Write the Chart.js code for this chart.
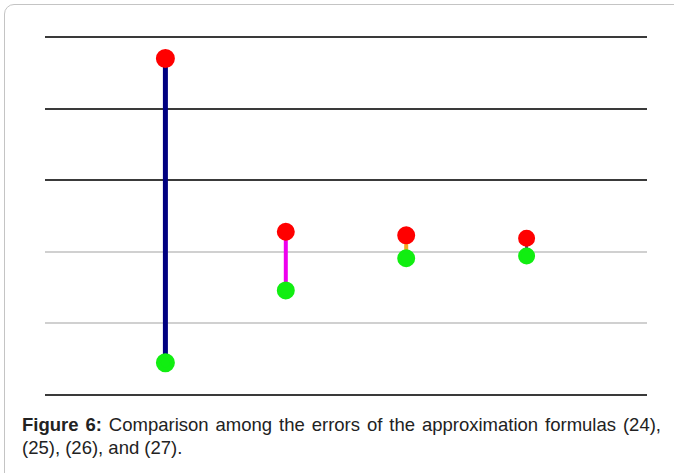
<!DOCTYPE html>
<html>
<head>
<meta charset="utf-8">
<script src="https://cdn.jsdelivr.net/npm/chart.js@4"></script>
<style>
  html, body { margin: 0; padding: 0; background: #fff; }
  body { width: 674px; height: 473px; position: relative; overflow: hidden; }
  .frame {
    position: absolute; left: 4px; top: 4px; width: 700px; height: 500px;
    border: 1px solid #c4c4c4; border-radius: 10px; box-sizing: border-box;
  }
  #wrap { position: absolute; left: 0; top: 0; width: 674px; height: 407px; }
  .caption {
    position: absolute; left: 22px; top: 413px; width: 639px;
    font-family: "Liberation Sans", Arial, sans-serif; font-size: 18.5px;
    line-height: 23px; color: #222; text-align: justify;
  }
</style>
</head>
<body>
<div class="frame"></div>
<div id="wrap"><canvas id="chart"></canvas></div>
<div class="caption"><b>Figure 6:</b> Comparison among the errors of the approximation formulas (24), (25), (26), and (27).</div>
<script>
// --- data ---
const formulas = [1, 2, 3, 4];            // x position of each formula
const upperErr = [4.70, 2.28, 2.23, 2.19]; // red dots
const lowerErr = [0.45, 1.46, 1.91, 1.94]; // green dots
const segColors = ["#000080", "#ee00ee", "#f5a623", "#3d4a7a"];
const segWidths = [5, 4, 4, 3];
const yTicks = [0, 1, 2, 3, 4, 5];

// light gray for the middle lines, dark for the rest
function gridColor(value) {
  return (value === 1 || value === 2) ? "#d0d0d0" : "#3a3a3a";
}

const datasets = formulas.map((x, i) => ({
  data: [{ x: x, y: upperErr[i] }, { x: x, y: lowerErr[i] }],
  borderColor: segColors[i],
  borderWidth: segWidths[i],
  pointBackgroundColor: ["#ff0000", "#11ee11"],
  pointBorderColor: ["#ff0000", "#11ee11"],
  pointRadius: 7,
  showLine: true,
  fill: false
}));

new Chart(document.getElementById("chart"), {
  type: "scatter",
  data: { datasets: datasets },
  options: {
    responsive: true,
    maintainAspectRatio: false,
    animation: false,
    layout: { padding: { left: 45, right: 27, top: 37, bottom: 7 } },
    plugins: { legend: { display: false }, tooltip: { enabled: false } },
    scales: {
      x: { type: "linear", min: 0, max: 5, display: false },
      y: {
        type: "linear", min: 0, max: 5,
        afterBuildTicks: axis => { axis.ticks = yTicks.map(v => ({ value: v })); },
        ticks: { display: false },
        border: { display: false },
        grid: {
          drawTicks: false,
          lineWidth: 2,
          color: ctx => gridColor(ctx.tick ? ctx.tick.value : 0)
        }
      }
    }
  }
});
</script>
</body>
</html>
